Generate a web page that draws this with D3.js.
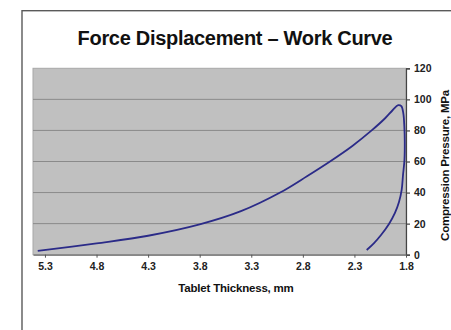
<!DOCTYPE html>
<html>
<head>
<meta charset="utf-8">
<script src="https://cdn.jsdelivr.net/npm/d3@7"></script>
<style>
  html, body { margin: 0; padding: 0; background: #fff; }
  svg { display: block; }
  text { font-family: "Liberation Sans", Arial, sans-serif; font-weight: bold; }
</style>
</head>
<body>
<svg id="chart" width="451" height="330"></svg>
<script>
// Tablet thickness (mm) along the compression cycle: loading then unloading
const thickness = [5.37, 4.80, 4.30, 3.80, 3.40, 3.02, 2.76, 2.537, 2.32, 2.133, 2.00, 1.93, 1.875, 1.845,
                   1.826, 1.816, 1.812, 1.815, 1.829, 1.842, 1.868, 1.907, 1.965, 2.042, 2.110, 2.181];
// Compression pressure (MPa) at each thickness
const pressure  = [2.4, 7.3, 12.2, 19.5, 28.0, 40.0, 50.5, 60.0, 70.0, 80.0, 88.0, 93.0, 96.3, 95.6,
                   91.0, 82.4, 73.0, 61.0, 51.3, 41.7, 33.9, 26.9, 19.8, 12.7, 7.5, 3.0];
const xTicks = [5.3, 4.8, 4.3, 3.8, 3.3, 2.8, 2.3, 1.8];
const yTicks = [0, 20, 40, 60, 80, 100, 120];

const title = "Force Displacement – Work Curve";
const xTitle = "Tablet Thickness, mm";
const yTitle = "Compression Pressure, MPa";

const svg = d3.select("#chart");
const plot = { left: 33, right: 406, top: 68.3, bottom: 254.7 };

const x = d3.scaleLinear().domain([5.416, 1.8]).range([plot.left, plot.right]);
const y = d3.scaleLinear().domain([0, 120]).range([plot.bottom, plot.top]);

// outer chart frame
svg.append("rect")
  .attr("x", 22).attr("y", 10.7).attr("width", 460).attr("height", 340)
  .attr("fill", "none").attr("stroke", "#5a5a5a").attr("stroke-width", 1.4);

// title
svg.append("text")
  .attr("x", 235).attr("y", 45)
  .attr("text-anchor", "middle")
  .attr("font-size", 20)
  .attr("fill", "#111")
  .style("letter-spacing", "-0.3px")
  .text(title);

// plot area
svg.append("rect")
  .attr("x", plot.left).attr("y", plot.top)
  .attr("width", plot.right - plot.left).attr("height", plot.bottom - plot.top)
  .attr("fill", "#c0c0c0").attr("stroke", "#a8a8a8").attr("stroke-width", 1);

// horizontal gridlines
svg.append("g").selectAll("line")
  .data(yTicks.filter(d => d > 0 && d < 120))
  .join("line")
  .attr("x1", plot.left).attr("x2", plot.right)
  .attr("y1", d => y(d)).attr("y2", d => y(d))
  .attr("stroke", "#8a8a8a").attr("stroke-width", 1);

// right value axis
const yAxis = svg.append("g")
  .attr("transform", `translate(${plot.right},0)`)
  .call(d3.axisRight(y).tickValues(yTicks).tickSize(4).tickPadding(4).tickFormat(d3.format("d")));
yAxis.select(".domain").attr("stroke", "#444").attr("stroke-width", 1.2);
yAxis.selectAll(".tick line").attr("stroke", "#444").attr("stroke-width", 1.2);
yAxis.selectAll(".tick text")
  .attr("font-size", 10.5).attr("fill", "#222")
  .style("font-family", "'Liberation Sans', Arial, sans-serif").style("font-weight", "bold");

// bottom category axis
const xAxis = svg.append("g")
  .attr("transform", `translate(0,${plot.bottom})`)
  .call(d3.axisBottom(x).tickValues(xTicks).tickSize(3).tickPadding(5).tickSizeOuter(0).tickFormat(d3.format(".1f")));
xAxis.select(".domain").attr("stroke", "#666").attr("stroke-width", 1.2);
xAxis.selectAll(".tick line").attr("stroke", "#555").attr("stroke-width", 1);
xAxis.selectAll(".tick text")
  .attr("font-size", 10.5).attr("fill", "#222")
  .style("font-family", "'Liberation Sans', Arial, sans-serif").style("font-weight", "bold");

// axis titles
svg.append("text")
  .attr("x", 236).attr("y", 292)
  .attr("text-anchor", "middle")
  .attr("font-size", 11.5).attr("fill", "#111")
  .style("letter-spacing", "-0.2px")
  .text(xTitle);

svg.append("text")
  .attr("transform", "translate(449,165.5) rotate(-90)")
  .attr("text-anchor", "middle")
  .attr("font-size", 11.5).attr("fill", "#111")
  .style("letter-spacing", "-0.2px")
  .text(yTitle);

// work curve
const pts = thickness.map((t, i) => [t, pressure[i]]);
const line = d3.line()
  .x(d => x(d[0])).y(d => y(d[1]))
  .curve(d3.curveCatmullRom.alpha(0.5));

svg.append("path")
  .datum(pts)
  .attr("d", line)
  .attr("fill", "none")
  .attr("stroke", "#2b2b88")
  .attr("stroke-width", 1.8)
  .attr("stroke-linejoin", "round");
</script>
</body>
</html>
